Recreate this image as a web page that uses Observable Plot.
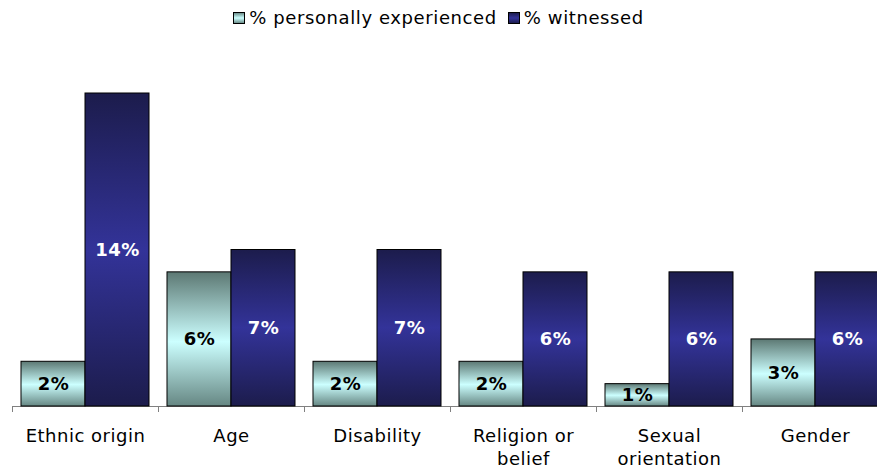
<!DOCTYPE html>
<html><head><meta charset="utf-8">
<script src="https://cdn.jsdelivr.net/npm/d3@7"></script>
<script src="https://cdn.jsdelivr.net/npm/@observablehq/plot@0.6"></script>
<style>
body{margin:0;background:#fff;font-family:"DejaVu Sans",Verdana,sans-serif;}
#legend{height:35px;display:flex;justify-content:center;align-items:center;font-size:18px;letter-spacing:0.6px;color:#000;}
.item{display:flex;align-items:center;}
.sw{width:10px;height:10px;border:1px solid #000;display:inline-block;margin-right:4px;}
</style></head><body>
<div id="legend"></div>
<div id="chart"></div>
<script>
const categories = ["Ethnic origin","Age","Disability","Religion or belief","Sexual orientation","Gender"];
const tickLabels = ["Ethnic origin","Age","Disability","Religion or\nbelief","Sexual\norientation","Gender"];
const series = ["% personally experienced","% witnessed"];
const experienced = [2,6,2,2,1,3];
const witnessed = [14,7,7,6,6,6];

const rowsExp = categories.map((c,i)=>({category:c, series:series[0], value:experienced[i]}));
const rowsWit = categories.map((c,i)=>({category:c, series:series[1], value:witnessed[i]}));

// legend
const legend = document.getElementById("legend");
const swatchBg = [
  "linear-gradient(#6b8d89,#ccffff 50%,#6b8d89)",
  "linear-gradient(#1c1c4e,#333399 50%,#1c1c4e)"
];
series.forEach((s,i)=>{
  const it = document.createElement("span");
  it.className = "item";
  it.style.marginRight = i === 0 ? "11px" : "0";
  const sw = document.createElement("span");
  sw.className = "sw";
  sw.style.background = swatchBg[i];
  it.appendChild(sw);
  it.appendChild(document.createTextNode(s));
  legend.appendChild(it);
});

const chart = Plot.plot({
  width: 877,
  height: 435,
  marginTop: 20,
  marginBottom: 59,
  marginLeft: 11,
  marginRight: 0,
  style: {fontFamily: "DejaVu Sans, Verdana, sans-serif", fontSize: "18px", letterSpacing: "0.5px", background: "#fff", color: "#000"},
  fx: {domain: categories, range: [11, 889], paddingInner: 0, paddingOuter: 0, label: null},
  x: {domain: series, paddingInner: 0, paddingOuter: 0.14, axis: null},
  y: {domain: [0, 14], range: [371, 58], axis: null},
  marks: [
    Plot.ruleY([0], {stroke: "#808080", strokeWidth: 1}),
    Plot.frame({anchor: "left", stroke: "#808080", insetTop: 351}),
    Plot.barY(rowsExp, {fx: "category", x: "series", y: "value", fill: "url(#gExp)", stroke: "#000", strokeWidth: 1}),
    Plot.barY(rowsWit, {fx: "category", x: "series", y: "value", fill: "url(#gWit)", stroke: "#000", strokeWidth: 1}),
    Plot.text(rowsExp, {fx: "category", x: "series", y: d => d.value / 2, text: d => d.value + "%", fill: "#000", fontWeight: "bold", fontSize: 18}),
    Plot.text(rowsWit, {fx: "category", x: "series", y: d => d.value / 2, text: d => d.value + "%", fill: "#fff", fontWeight: "bold", fontSize: 18}),
    Plot.axisFx({anchor: "bottom", tickSize: 0, tickPadding: 14, lineHeight: 1.28, label: null,
                 tickFormat: c => tickLabels[categories.indexOf(c)], fontSize: 18})
  ]
});

const svg = d3.select(chart);
const defs = svg.insert("defs", ":first-child");
const g1 = defs.append("linearGradient").attr("id", "gExp").attr("x1", 0).attr("y1", 0).attr("x2", 0).attr("y2", 1);
g1.append("stop").attr("offset", "0%").attr("stop-color", "#5c7873");
g1.append("stop").attr("offset", "52%").attr("stop-color", "#ccffff");
g1.append("stop").attr("offset", "100%").attr("stop-color", "#668783");
const g2 = defs.append("linearGradient").attr("id", "gWit").attr("x1", 0).attr("y1", 0).attr("x2", 0).attr("y2", 1);
g2.append("stop").attr("offset", "0%").attr("stop-color", "#1c1c4c");
g2.append("stop").attr("offset", "50%").attr("stop-color", "#333399");
g2.append("stop").attr("offset", "100%").attr("stop-color", "#1c1c4c");

document.getElementById("chart").appendChild(chart);
</script>
</body></html>
